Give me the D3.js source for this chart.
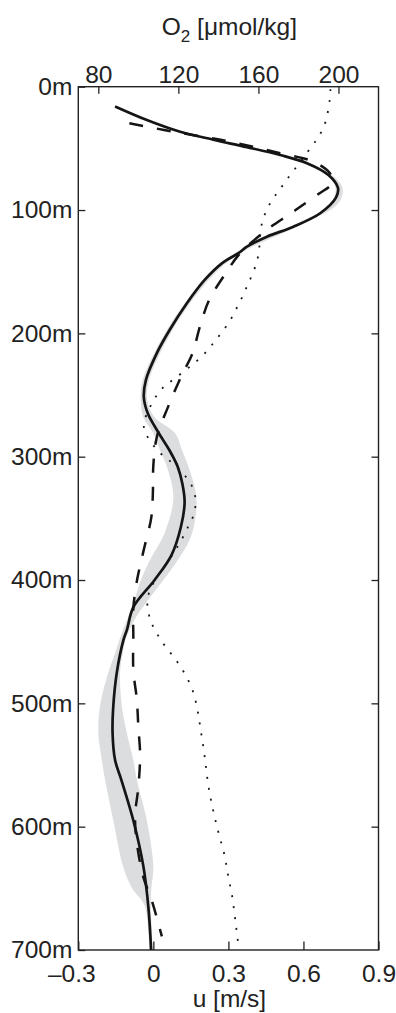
<!DOCTYPE html>
<html>
<head>
<meta charset="utf-8">
<script src="https://cdn.jsdelivr.net/npm/d3@7"></script>
<style>
  html, body { margin: 0; padding: 0; background: #fff; }
  svg { display: block; }
  text { font-family: "Liberation Sans", Arial, Helvetica, sans-serif; fill: #222; }
</style>
</head>
<body>
<svg id="chart" width="396" height="1013"></svg>
<script>
// ---- data ----
const depthTicks = [0, 100, 200, 300, 400, 500, 600, 700];
const uTicks = [-0.3, 0, 0.3, 0.6, 0.9];
const o2Ticks = [80, 120, 160, 200];

// observed u (solid)
const depthSolid = [16, 27, 36.5, 43, 49, 55.4, 62, 71.6, 82, 90, 102.6, 113.5, 121.6, 129.7, 135, 143, 156.7, 175.6, 197.3, 216, 238, 252, 265, 281, 295, 308, 322, 337, 357, 380, 400, 422, 440, 449, 475, 502, 524, 546, 562, 595, 632, 665, 700];
const uSolid = [-0.153, -0.026, 0.107, 0.24, 0.374, 0.507, 0.614, 0.70, 0.738, 0.73, 0.667, 0.56, 0.454, 0.374, 0.34, 0.275, 0.205, 0.134, 0.065, 0.014, -0.03, -0.038, -0.022, 0.022, 0.065, 0.097, 0.116, 0.125, 0.11, 0.072, 0.005, -0.08, -0.105, -0.12, -0.146, -0.16, -0.163, -0.153, -0.128, -0.08, -0.04, -0.02, -0.009];

// uncertainty band
const depthBand = [16, 36.5, 55.4, 71.6, 82, 95, 113.5, 140, 178, 219, 240, 255, 268, 281, 295, 308, 333, 362, 381, 400, 416, 432, 448, 459, 475, 502, 524, 546, 562, 595, 633, 650, 664, 700];
const uBandLo = [-0.158, 0.10, 0.50, 0.692, 0.728, 0.708, 0.55, 0.29, 0.117, -0.004, -0.045, -0.05, -0.04, 0.0, 0.027, 0.054, 0.08, 0.045, -0.006, -0.05, -0.075, -0.105, -0.135, -0.152, -0.18, -0.213, -0.22, -0.206, -0.193, -0.16, -0.12, -0.085, -0.035, -0.016];
const uBandHi = [-0.148, 0.114, 0.515, 0.712, 0.756, 0.738, 0.572, 0.31, 0.138, 0.02, -0.02, -0.024, 0.005, 0.087, 0.115, 0.14, 0.172, 0.155, 0.107, 0.04, -0.02, -0.075, -0.11, -0.122, -0.133, -0.126, -0.106, -0.08, -0.066, -0.026, 0.0, -0.008, -0.01, -0.002];

// model u (dashed)
const depthDash = [29.7, 35.1, 39.4, 44.6, 54, 60.8, 70, 78, 87, 97, 104, 116, 135, 151, 173, 194, 217, 232, 240, 260, 284, 307, 330, 349, 377, 401, 423, 446, 473, 497, 519, 542, 568, 591, 613, 641, 660, 689];
const uDash = [-0.096, 0.043, 0.163, 0.307, 0.507, 0.64, 0.705, 0.715, 0.66, 0.59, 0.54, 0.454, 0.347, 0.29, 0.223, 0.187, 0.155, 0.118, 0.1, 0.058, 0.014, 0.0, -0.002, -0.008, -0.04, -0.066, -0.08, -0.08, -0.08, -0.066, -0.06, -0.053, -0.06, -0.073, -0.066, -0.04, -0.006, 0.034];

// oxygen (dotted)
const depthO2 = [2, 9.4, 18.9, 28.4, 36.5, 43.2, 50, 58, 64.9, 71.6, 79.7, 86.4, 94.5, 102.6, 110.8, 120.2, 137.8, 154, 162.2, 170.3, 178.4, 186.5, 194, 201.3, 208, 214.9, 221.6, 227, 237.8, 243.2, 250, 259.5, 273, 281, 289, 296, 301.3, 306.7, 313.5, 320.3, 328.4, 336.5, 346, 354, 362.1, 370.2, 378.3, 385.1, 391.9, 400, 408.1, 416.2, 425.7, 433.8, 441.9, 450, 456.7, 463.5, 470.8, 478.4, 486.5, 495.1, 504, 512.9, 521.6, 530.5, 539.2, 548.1, 556.7, 565.6, 574.3, 583.2, 591.9, 600.8, 609.4, 618.3, 627, 635.7, 644.6, 653.2, 662.1, 671, 679.7, 688.6, 697.3];
const o2 = [196, 195.8, 194.9, 193.75, 191.6, 189.1, 185.75, 182.4, 179.1, 175.75, 172.4, 169.1, 165.75, 163.25, 161.6, 160.75, 160.4, 156.6, 154.1, 152.1, 149.4, 147.1, 144.1, 140.75, 137.4, 134.1, 129.9, 125.75, 117.4, 112.4, 109.1, 105.75, 102.1, 103.25, 106.6, 109.9, 114.1, 118.25, 122.4, 125.75, 128.25, 128.75, 128.25, 125.75, 123.25, 120.75, 117.4, 114.9, 111.6, 108.25, 105.75, 104.1, 104.9, 106.1, 108.75, 111.6, 114.9, 118.25, 121.4, 124.1, 126.6, 128.25, 129.4, 130.4, 131.1, 132.1, 132.75, 133.6, 134.1, 134.9, 135.75, 136.9, 138.1, 139.4, 140.75, 142.4, 143.6, 144.4, 145.4, 146.6, 147.4, 148.1, 148.75, 149.4, 150.1];

// ---- layout ----
const pL = 78.3, pR = 378.5, pT = 86.7, pB = 950;
const FS = 24.5;
const x = d3.scaleLinear().domain([-0.3, 0.9]).range([pL, pR]);
const xO2 = d3.scaleLinear().domain([70, 220]).range([pL, pR]);
const y = d3.scaleLinear().domain([0, 700]).range([pT, pB]);

const svg = d3.select("#chart");

svg.append("clipPath").attr("id", "clip")
  .append("rect").attr("x", pL).attr("y", pT).attr("width", pR - pL).attr("height", pB - pT);

const plot = svg.append("g").attr("clip-path", "url(#clip)");

// band
const band = depthBand.map((d, i) => ({d, lo: uBandLo[i], hi: uBandHi[i]}));
plot.append("path")
  .datum(band)
  .attr("fill", "#dcdddf")
  .attr("d", d3.area().y(p => y(p.d)).x0(p => x(p.lo)).x1(p => x(p.hi)).curve(d3.curveCatmullRom.alpha(0.5)));

// dotted O2
plot.append("path")
  .datum(depthO2.map((d, i) => ({d, v: o2[i]})))
  .attr("fill", "none").attr("stroke", "#1a1a1a").attr("stroke-width", 1.8)
  .attr("stroke-dasharray", "2,9")
  .attr("d", d3.line().y(p => y(p.d)).x(p => xO2(p.v)).curve(d3.curveBasis));

// dashed
plot.append("path")
  .datum(depthDash.map((d, i) => ({d, v: uDash[i]})))
  .attr("fill", "none").attr("stroke", "#151515").attr("stroke-width", 2.5)
  .attr("stroke-dasharray", "14,14")
  .attr("d", d3.line().y(p => y(p.d)).x(p => x(p.v)).curve(d3.curveCatmullRom.alpha(0.5)));

// solid
plot.append("path")
  .datum(depthSolid.map((d, i) => ({d, v: uSolid[i]})))
  .attr("fill", "none").attr("stroke", "#151515").attr("stroke-width", 2.7)
  .attr("d", d3.line().y(p => y(p.d)).x(p => x(p.v)).curve(d3.curveCatmullRom.alpha(0.5)));

// axes
function styleAxis(g) {
  g.select(".domain").remove();
  g.selectAll(".tick line").attr("stroke", "#222").attr("stroke-width", 1.3);
  g.selectAll(".tick text").attr("font-size", FS).attr("fill", "#222")
    .attr("font-family", '"Liberation Sans", Arial, Helvetica, sans-serif');
}

svg.append("g").attr("transform", `translate(${pL},0)`)
  .call(d3.axisLeft(y).tickValues(depthTicks).tickSize(-7).tickPadding(6).tickFormat(d => d + "m"))
  .call(styleAxis);

svg.append("g").attr("transform", `translate(${pR},0)`)
  .call(d3.axisRight(y).tickValues(depthTicks.slice(1, -1)).tickSize(-7).tickFormat(""))
  .call(styleAxis);

svg.append("g").attr("transform", `translate(0,${pT})`)
  .call(d3.axisTop(xO2).tickValues(o2Ticks).tickSize(-7).tickPadding(4))
  .call(styleAxis);

const bx = svg.append("g").attr("transform", `translate(0,${pB})`)
  .call(d3.axisBottom(x).tickValues(uTicks).tickSize(-8.5).tickPadding(14.5)
    .tickFormat(d => d < 0 ? "\u2013" + Math.abs(d) : String(d)))
  .call(styleAxis);
bx.selectAll(".tick text").filter(d => d < 0).attr("dx", -7);

// frame
svg.append("rect")
  .attr("x", pL).attr("y", pT).attr("width", pR - pL).attr("height", pB - pT)
  .attr("fill", "none").attr("stroke", "#222").attr("stroke-width", 1.4);

// axis titles
const t = svg.append("text").attr("x", (pL + pR) / 2 + 1).attr("y", 35)
  .attr("text-anchor", "middle").attr("font-size", FS);
t.append("tspan").text("O");
t.append("tspan").attr("font-size", 17).attr("dy", 7).text("2");
t.append("tspan").attr("dy", -7).text(" [μmol/kg]");

svg.append("text").attr("x", (pL + pR) / 2 + 1).attr("y", 1007)
  .attr("text-anchor", "middle").attr("font-size", FS).text("u [m/s]");
</script>
</body>
</html>
